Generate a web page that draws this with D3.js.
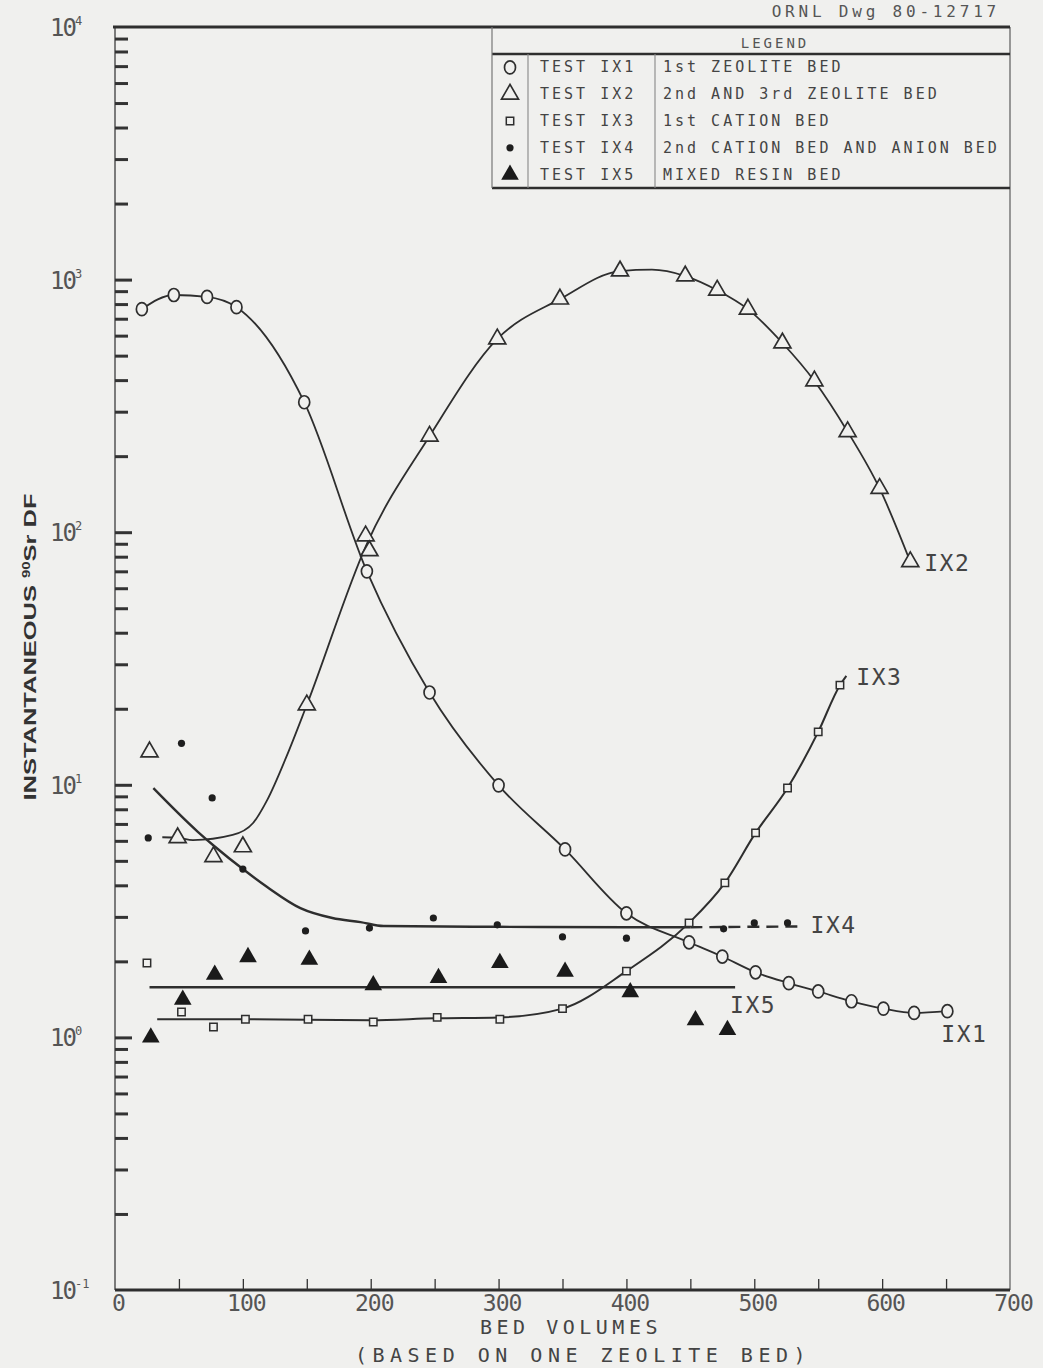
<!DOCTYPE html>
<html>
<head>
<meta charset="utf-8">
<script src="https://cdn.jsdelivr.net/npm/d3@7"></script>
<style>
body { margin: 0; background: #f0f0ee; }
svg { display: block; }
text { font-family: "DejaVu Sans Mono", monospace; fill: #444; }
.tick line { stroke: #333; }
</style>
</head>
<body>
<div id="chart"></div>
<script>
var sWidth = 1043;
var sHeight = 1368;

// IX1 - 1st zeolite bed (open circles)
var ix1X = [21, 46, 72, 95, 148, 197, 246, 300, 352, 400, 449, 475, 501, 527, 550, 576, 601, 625, 651];
var ix1Y = [764, 869, 854, 778, 327, 70, 23.2, 9.95, 5.55, 3.1, 2.38, 2.09, 1.81, 1.64, 1.52, 1.39, 1.3, 1.25, 1.27];

// IX2 - 2nd and 3rd zeolite bed (open triangles)
var ix2X = [27, 49, 77, 100, 150, 196, 199, 246, 299, 348, 395, 446, 471, 495, 522, 547, 573, 598, 622];
var ix2Y = [13.5, 6.17, 5.19, 5.68, 20.7, 96.6, 84.4, 240, 582, 837, 1081, 1033, 908, 764, 561, 397, 250, 149, 76.4];
var ix2FitX = [37, 49, 61, 92, 108, 119, 134, 150, 197, 246, 299, 348, 395, 420, 446, 471, 495, 522, 547, 573, 598, 622];
var ix2FitY = [6.2, 6.17, 6.04, 6.33, 7.06, 8.7, 12.9, 20.7, 90, 240, 582, 837, 1081, 1095, 1033, 908, 764, 561, 397, 250, 149, 76.4];

// IX3 - 1st cation bed (small squares)
var ix3X = [25, 52, 77, 102, 151, 202, 252, 301, 350, 400, 449, 477, 501, 526, 550, 567];
var ix3Y = [1.97, 1.26, 1.10, 1.18, 1.18, 1.15, 1.20, 1.18, 1.30, 1.83, 2.84, 4.09, 6.45, 9.71, 16.2, 24.8];
var ix3FitX = [33, 100, 200, 250, 300, 350, 400, 449, 477, 501, 526, 550, 567, 572];
var ix3FitY = [1.18, 1.18, 1.17, 1.19, 1.2, 1.3, 1.83, 2.84, 4.09, 6.45, 9.71, 16.2, 24.8, 27];

// IX4 - 2nd cation bed and anion bed (dots)
var ix4X = [26, 52, 76, 100, 149, 199, 249, 299, 350, 400, 476, 500, 526];
var ix4Y = [6.16, 14.6, 8.87, 4.64, 2.64, 2.71, 2.97, 2.79, 2.5, 2.47, 2.69, 2.84, 2.84];
var ix4FitX = [30, 65, 78, 100, 119, 145, 170, 192, 210, 300, 400, 450];
var ix4FitY = [9.7, 6.5, 5.7, 4.64, 3.94, 3.25, 2.97, 2.86, 2.76, 2.74, 2.73, 2.73];
var ix4TailX = [450, 537];
var ix4TailY = [2.73, 2.75];

// IX5 - mixed resin bed (filled triangles)
var ix5X = [28, 53, 78, 104, 152, 202, 253, 301, 352, 403, 454, 479];
var ix5Y = [1.0, 1.41, 1.77, 2.08, 2.03, 1.61, 1.72, 1.97, 1.82, 1.51, 1.17, 1.07];
var ix5FitX = [27, 485];
var ix5FitY = [1.58, 1.58];

var xTickLabels = [0, 100, 200, 300, 400, 500, 600, 700];
var xMinorTicks = [50, 100, 150, 200, 250, 300, 350, 400, 450, 500, 550, 600, 650];
var yDecades = [-1, 0, 1, 2, 3, 4];

var legendTest = ['TEST IX1', 'TEST IX2', 'TEST IX3', 'TEST IX4', 'TEST IX5'];
var legendDesc = ['1st ZEOLITE BED', '2nd AND 3rd ZEOLITE BED', '1st CATION BED',
    '2nd CATION BED AND ANION BED', 'MIXED RESIN BED'];
var seriesNames = ['IX1', 'IX2', 'IX3', 'IX4', 'IX5'];

var bg = '#f0f0ee';
var ink = '#2e2e2e';

var svg = d3.select('#chart')
    .append('svg')
    .attr('width', sWidth)
    .attr('height', sHeight);

svg.append('rect').attr('width', sWidth).attr('height', sHeight).attr('fill', bg);

var x = d3.scaleLinear().domain([0, 700]).range([115, 1010]);
var y = d3.scaleLog().domain([0.1, 10000]).range([1290, 27]);

function pairs(xs, ys) {
    return xs.map(function(d, i) { return [d, ys[i]]; });
}

var line = d3.line()
    .x(d => x(d[0]))
    .y(d => y(d[1]))
    .curve(d3.curveMonotoneX);

// ---- frame ----
var frame = svg.append('g');
frame.append('line')
    .attr('x1', x(0)).attr('x2', x(0)).attr('y1', y(10000)).attr('y2', y(0.1))
    .attr('stroke', '#555').attr('stroke-width', 1.5);
frame.append('line')
    .attr('x1', x(700)).attr('x2', x(700)).attr('y1', y(10000)).attr('y2', y(0.1))
    .attr('stroke', '#666').attr('stroke-width', 1.3);
frame.append('line')
    .attr('x1', x(0) - 2).attr('x2', x(700)).attr('y1', y(10000)).attr('y2', y(10000))
    .attr('stroke', ink).attr('stroke-width', 3);
frame.append('line')
    .attr('x1', x(0)).attr('x2', x(700)).attr('y1', y(0.1)).attr('y2', y(0.1))
    .attr('stroke', ink).attr('stroke-width', 3);

// ---- y ticks (inside, to the right of the axis) ----
var minorY = [];
yDecades.slice(0, -1).forEach(function(e) {
    for (var k = 2; k <= 9; k++) minorY.push(k * Math.pow(10, e));
});
var majorY = yDecades.slice(1, -1).map(e => Math.pow(10, e));

svg.append('g')
    .attr('transform', `translate(${x(0)}, 0)`)
    .call(d3.axisRight(y).tickValues(minorY).tickSize(13).tickFormat(''))
    .call(g => g.select('.domain').remove())
    .selectAll('.tick line').attr('stroke-width', 3);

svg.append('g')
    .attr('transform', `translate(${x(0)}, 0)`)
    .call(d3.axisRight(y).tickValues(majorY).tickSize(17).tickFormat(''))
    .call(g => g.select('.domain').remove())
    .selectAll('.tick line').attr('stroke-width', 3);

// y tick labels 10^n
var yLab = svg.append('g');
yDecades.forEach(function(e) {
    var t = yLab.append('text')
        .attr('x', 50)
        .attr('y', y(Math.pow(10, e)) + 9)
        .style('font-size', '24px')
        .style('letter-spacing', '-2px')
        .style('fill', '#555');
    t.append('tspan').text('10');
    t.append('tspan')
        .attr('dy', -11)
        .style('font-size', '12px')
        .style('letter-spacing', '0px')
        .text(e === -1 ? '-1' : String(e));
});

// ---- x ticks ----
svg.append('g')
    .attr('transform', `translate(0, ${y(0.1)})`)
    .call(d3.axisTop(x).tickValues(xMinorTicks).tickSize(11).tickFormat(''))
    .call(g => g.select('.domain').remove())
    .selectAll('.tick line').attr('stroke-width', 1.3).attr('stroke', '#666');

svg.append('g')
    .attr('transform', `translate(3, ${y(0.1)})`)
    .call(d3.axisBottom(x).tickValues(xTickLabels).tickSize(0).tickPadding(5).tickFormat(d3.format('d')))
    .call(g => g.select('.domain').remove())
    .selectAll('text')
    .style('font-family', '"DejaVu Sans Mono", monospace')
    .style('font-size', '23px')
    .style('letter-spacing', '-1px')
    .style('fill', '#555');

// ---- axis titles ----
var yTitle = svg.append('text')
    .attr('transform', `translate(36, 647) rotate(-90)`)
    .attr('text-anchor', 'middle')
    .attr('textLength', 307)
    .attr('lengthAdjust', 'spacingAndGlyphs')
    .style('font-family', '"Liberation Sans", Arial, sans-serif')
    .style('font-weight', 'bold')
    .style('font-size', '17px')
    .style('fill', '#333');
yTitle.append('tspan').text('INSTANTANEOUS ');
yTitle.append('tspan').attr('dy', -6).style('font-size', '10px').text('90');
yTitle.append('tspan').attr('dy', 6).text('Sr DF');

svg.append('text')
    .attr('x', 571).attr('y', 1334)
    .attr('text-anchor', 'middle')
    .style('font-size', '20px')
    .style('letter-spacing', '4.5px')
    .style('fill', '#444')
    .text('BED VOLUMES');

svg.append('text')
    .attr('x', 583).attr('y', 1362)
    .attr('text-anchor', 'middle')
    .style('font-size', '20px')
    .style('letter-spacing', '5.5px')
    .style('fill', '#444')
    .text('(BASED ON ONE ZEOLITE BED)');

svg.append('text')
    .attr('x', 1000).attr('y', 17)
    .attr('text-anchor', 'end')
    .style('font-size', '16px')
    .style('letter-spacing', '3.8px')
    .style('fill', '#555')
    .text('ORNL Dwg 80-12717');

// ---- curves ----
var curves = svg.append('g')
    .attr('fill', 'none')
    .attr('stroke', ink)
    .attr('stroke-width', 2);

curves.append('path').attr('d', line(pairs(ix1X, ix1Y))).attr('stroke-width', 1.8);
curves.append('path').attr('d', line(pairs(ix2FitX, ix2FitY))).attr('stroke-width', 1.8);
curves.append('path').attr('d', line(pairs(ix3FitX, ix3FitY)));
curves.append('path').attr('d', line(pairs(ix4FitX, ix4FitY))).attr('stroke-width', 2.4);
curves.append('path').attr('d', line(pairs(ix4TailX, ix4TailY)))
    .attr('stroke-width', 2.4).attr('stroke-dasharray', '12,7');
curves.append('path').attr('d', line(pairs(ix5FitX, ix5FitY))).attr('stroke-width', 2.6);

// ---- markers ----
var triOpen = d3.symbol().type(d3.symbolTriangle).size(125);
var triFill = d3.symbol().type(d3.symbolTriangle).size(135);
var square = d3.symbol().type(d3.symbolSquare).size(55);

function drawIX1(g, pts) {
    g.selectAll('ellipse.ix1').data(pts).enter().append('ellipse')
        .attr('class', 'ix1')
        .attr('cx', d => x(d[0])).attr('cy', d => y(d[1]))
        .attr('rx', 5.5).attr('ry', 6.5)
        .attr('fill', bg).attr('stroke', ink).attr('stroke-width', 1.7);
}
function drawIX2(g, pts) {
    g.selectAll('path.ix2').data(pts).enter().append('path')
        .attr('class', 'ix2')
        .attr('d', triOpen)
        .attr('transform', d => `translate(${x(d[0])}, ${y(d[1])})`)
        .attr('fill', bg).attr('stroke', ink).attr('stroke-width', 1.7);
}
function drawIX3(g, pts) {
    g.selectAll('path.ix3').data(pts).enter().append('path')
        .attr('class', 'ix3')
        .attr('d', square)
        .attr('transform', d => `translate(${x(d[0])}, ${y(d[1])})`)
        .attr('fill', bg).attr('stroke', ink).attr('stroke-width', 1.5);
}
function drawIX4(g, pts) {
    g.selectAll('circle.ix4').data(pts).enter().append('circle')
        .attr('class', 'ix4')
        .attr('cx', d => x(d[0])).attr('cy', d => y(d[1]))
        .attr('r', 3.6)
        .attr('fill', '#1e1e1e');
}
function drawIX5(g, pts) {
    g.selectAll('path.ix5').data(pts).enter().append('path')
        .attr('class', 'ix5')
        .attr('d', triFill)
        .attr('transform', d => `translate(${x(d[0])}, ${y(d[1])})`)
        .attr('fill', '#1a1a1a');
}

var marks = svg.append('g');
drawIX3(marks.append('g'), pairs(ix3X, ix3Y));
drawIX5(marks.append('g'), pairs(ix5X, ix5Y));
drawIX4(marks.append('g'), pairs(ix4X, ix4Y));
drawIX2(marks.append('g'), pairs(ix2X, ix2Y));
drawIX1(marks.append('g'), pairs(ix1X, ix1Y));

// ---- series end labels ----
var ends = [
    [ix1X[ix1X.length - 1], ix1Y[ix1Y.length - 1], -6, 31],
    [ix2X[ix2X.length - 1], ix2Y[ix2Y.length - 1], 14, 9],
    [ix3FitX[ix3FitX.length - 1], ix3FitY[ix3FitY.length - 1], 10, 9],
    [ix4TailX[1], ix4TailY[1], 9, 7],
    [ix5FitX[1], ix5FitY[1], -5, 26]
];
ends.forEach(function(e, i) {
    svg.append('text')
        .attr('x', x(e[0]) + e[2])
        .attr('y', y(e[1]) + e[3])
        .style('font-size', '23px')
        .style('letter-spacing', '1.5px')
        .style('fill', '#444')
        .text(seriesNames[i]);
});

// ---- legend table ----
var lg = svg.append('g');
var lgLeft = 492, lgRight = x(700), lgTop = y(10000), lgHead = 54, lgBottom = 188;
var rowH = (lgBottom - lgHead) / legendTest.length;

lg.append('line').attr('x1', lgLeft).attr('x2', lgRight).attr('y1', lgHead).attr('y2', lgHead)
    .attr('stroke', ink).attr('stroke-width', 2.6);
lg.append('line').attr('x1', lgLeft).attr('x2', lgRight).attr('y1', lgBottom).attr('y2', lgBottom)
    .attr('stroke', ink).attr('stroke-width', 2.6);
lg.append('line').attr('x1', lgLeft).attr('x2', lgLeft).attr('y1', lgTop).attr('y2', lgBottom)
    .attr('stroke', '#777').attr('stroke-width', 1.2);
[528, 655].forEach(function(cx) {
    lg.append('line').attr('x1', cx).attr('x2', cx).attr('y1', lgHead).attr('y2', lgBottom)
        .attr('stroke', '#888').attr('stroke-width', 1.1);
});
lg.append('text')
    .attr('x', 775).attr('y', 48)
    .attr('text-anchor', 'middle')
    .style('font-size', '14px')
    .style('letter-spacing', '3px')
    .style('fill', '#555')
    .text('LEGEND');

legendTest.forEach(function(t, i) {
    var cy = lgHead + rowH * (i + 0.5);
    lg.append('text').attr('x', 540).attr('y', cy + 5)
        .style('font-size', '15px').style('letter-spacing', '3px').text(t);
    lg.append('text').attr('x', 663).attr('y', cy + 5)
        .style('font-size', '15px').style('letter-spacing', '3px').text(legendDesc[i]);
});

var sym = lg.append('g');
var symX = 510;
function legendPos(i) { return lgHead + rowH * (i + 0.5); }
sym.append('ellipse').attr('cx', symX).attr('cy', legendPos(0)).attr('rx', 5.5).attr('ry', 6.5)
    .attr('fill', bg).attr('stroke', ink).attr('stroke-width', 1.7);
sym.append('path').attr('d', triOpen).attr('transform', `translate(${symX}, ${legendPos(1)})`)
    .attr('fill', bg).attr('stroke', ink).attr('stroke-width', 1.7);
sym.append('path').attr('d', square).attr('transform', `translate(${symX}, ${legendPos(2)})`)
    .attr('fill', bg).attr('stroke', ink).attr('stroke-width', 1.5);
sym.append('circle').attr('cx', symX).attr('cy', legendPos(3)).attr('r', 3.6).attr('fill', '#1e1e1e');
sym.append('path').attr('d', triFill).attr('transform', `translate(${symX}, ${legendPos(4)})`)
    .attr('fill', '#1a1a1a');
</script>
</body>
</html>
